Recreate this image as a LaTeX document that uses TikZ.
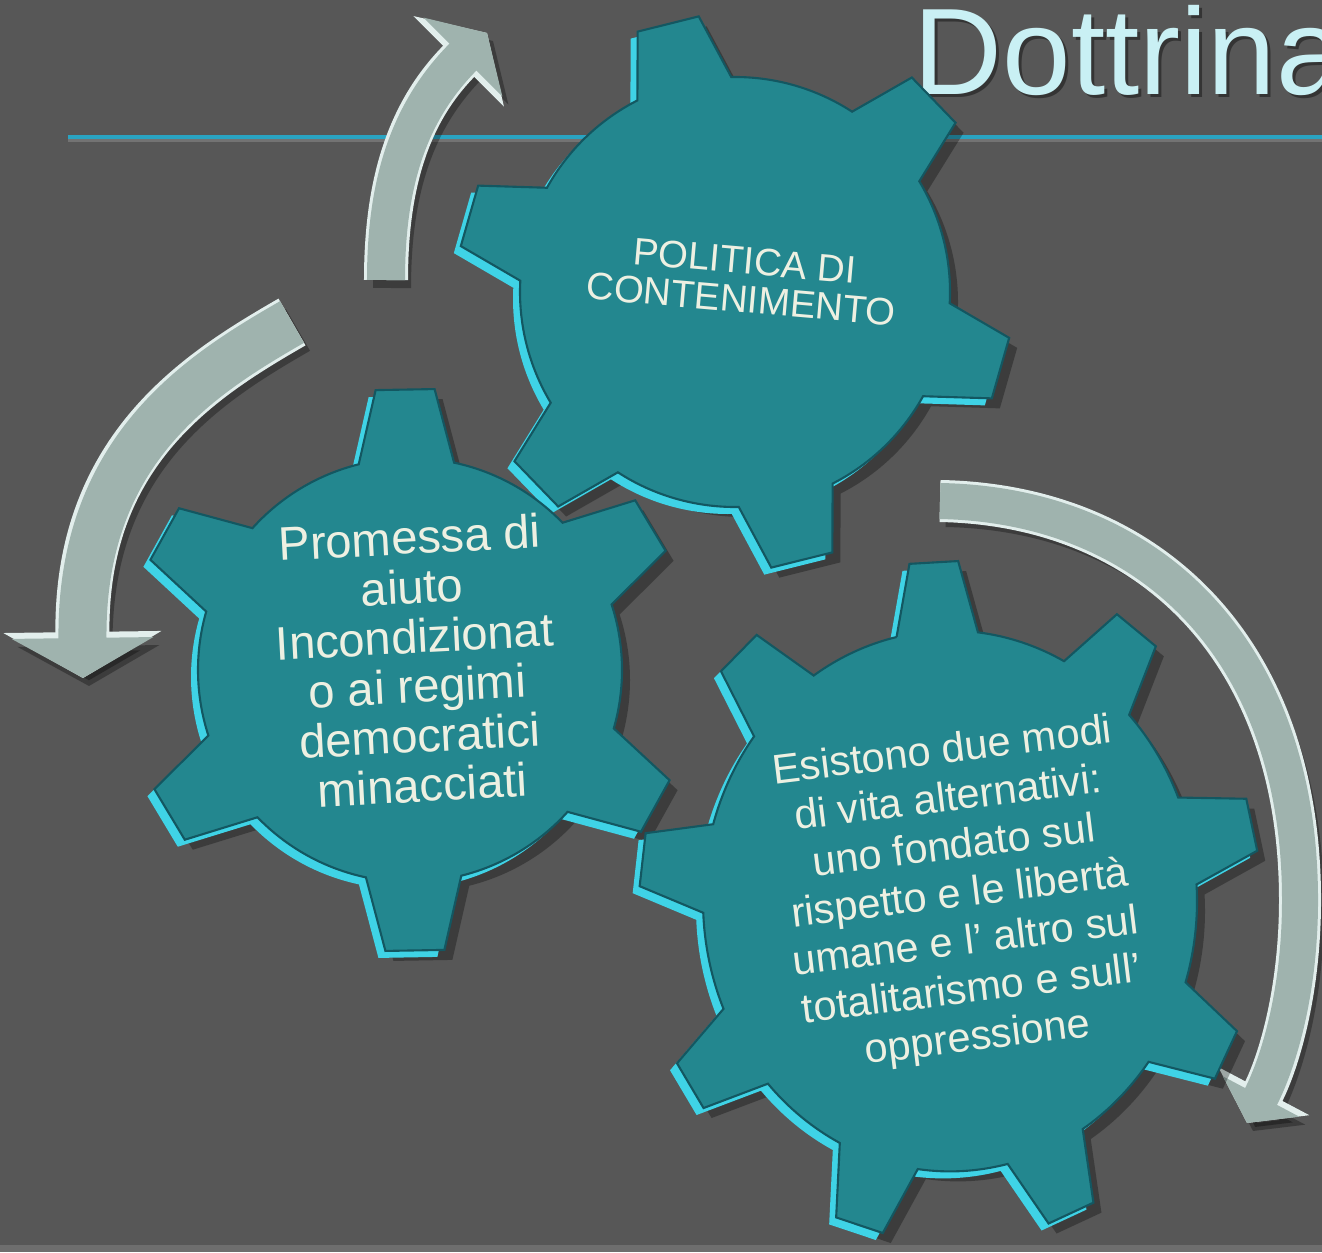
\documentclass[tikz,border=0pt]{standalone}
\usepackage{fontspec}
\setmainfont{Liberation Sans}
\usetikzlibrary{arrows.meta}

\definecolor{slide}{HTML}{575757}
\definecolor{slidestrip}{HTML}{6E6E6E}
\definecolor{gearface}{HTML}{23878F}
\definecolor{gearedge}{HTML}{3FD3E6}
\definecolor{geardark}{HTML}{135761}
\definecolor{arrowface}{HTML}{9FB3AE}
\definecolor{arrowedge}{HTML}{E2EEEC}
\definecolor{gtext}{HTML}{EDF0E2}
\definecolor{titlecol}{HTML}{C9F0F4}
\definecolor{rulecol}{HTML}{2AA4C2}

\newcommand{\gearshape}[8][]{%
  \pgfmathsetmacro{\gstep}{360/#3}%
  \foreach \gdx/\gdy/\glayer in {8/10/gearshadow,-7/7/gearlight,0/0/gearbody}{%
    \path[\glayer, shift={(#2)}, shift={(\gdx,\gdy)}, #1] (#4-#7:#5)
      \foreach \k in {1,...,#3}{
        -- ({#4+(\k-1)*\gstep-#8}:#6) -- ({#4+(\k-1)*\gstep+#8}:#6)
        -- ({#4+(\k-1)*\gstep+#7}:#5)
        arc[start angle={#4+(\k-1)*\gstep+#7}, end angle={#4+\k*\gstep-#7}, radius=#5]}
      -- cycle;}}

\def\bandone{(a1s) .. controls (386,180) and (410,110) .. (a1e)}
\def\bandtwo{(a2s) .. controls (200,375) and (80,450) .. (a2e)}
\def\bandthree{(a3s) .. controls (1150,505) and (1300,650) .. (1300,900) .. controls (1300,1000) and (1275,1070) .. (a3e)}

\begin{document}
\begin{tikzpicture}[x=0.01cm, y=-0.01cm,
    gearbody/.style={fill=gearface, draw=geardark, line width=0.6pt},
    gearlight/.style={fill=gearedge},
    gearshadow/.style={fill=black, fill opacity=0.3},
    geartext/.style={text=gtext, align=center, inner sep=0pt},
    titletext/.style={inner sep=0pt, anchor=base west, font=\fontsize{35}{40}\selectfont}]
  \clip (0,0) rectangle (1322,1252);
  \fill[slide] (0,0) rectangle (1322,1252);
  \fill[slidestrip] (0,1245) rectangle (1322,1252);
  \draw[black!55, line width=1.2pt] (68,140) -- (1322,140);
  \draw[rulecol, line width=0.9pt] (68,137) -- (1322,137);

  \node[titletext, text=black, opacity=0.4] (titleshade) at (916,98) {Dottrina};
  \node[titletext, text=titlecol] (titolo) at (913,95) {Dottrina};

  \coordinate (a1s) at (386,280);
  \coordinate (a1e) at (487,33);
  \coordinate (a2s) at (292,322);
  \coordinate (a2e) at (83,678);
  \coordinate (a3s) at (940,501);
  \coordinate (a3e) at (1247,1123);
  \foreach \band/\bw/\hw/\hl in {\bandone/0.38/1.1/0.34, \bandtwo/0.48/1.4/0.40, \bandthree/0.36/0.85/0.30}{
    \pgfmathsetmacro{\rw}{\bw+0.06}
    \pgfmathsetmacro{\rhw}{\hw+0.16}
    \pgfmathsetmacro{\rhl}{\hl+0.06}
    \draw[black, opacity=0.3, transform canvas={shift={(0.06cm,-0.08cm)}}, line width=\bw cm,
      -{Triangle[width=\hw cm, length=\hl cm]}] \band;
    \draw[arrowedge, line width=\rw cm, -{Triangle[width=\rhw cm, length=\rhl cm]}] \band;
    \draw[arrowface, line width=\bw cm, -{Triangle[width=\hw cm, length=\hl cm]}] \band;
  }

  \coordinate (gtop) at (735,292);
  \coordinate (gleft) at (410,670);
  \coordinate (gbottom) at (950,901);
  \gearshape{gtop}{6}{-104}{215}{278}{13}{6.5}
  \gearshape{gleft}{6}{-91}{212}{282}{13}{6}
  \gearshape[xscale=0.95, yscale=1.04]{gbottom}{9}{-93}{260}{327}{9.5}{4.5}

  \node[geartext, rotate=-5, font=\fontsize{10.9}{11}\selectfont] (contenimento) at (743,280)
    {POLITICA DI\\CONTENIMENTO};
  \node[geartext, rotate=3, font=\fontsize{13.4}{14.1}\selectfont] (promessa) at (416,661)
    {Promessa di\\aiuto\\Incondizionat\\o ai regimi\\democratici\\minacciati};
  \node[geartext, rotate=7, font=\fontsize{11.8}{13.7}\selectfont] (esistono) at (960,896)
    {Esistono due modi\\di vita alternativi:\\uno fondato sul\\rispetto e le libertà\\umane e l' altro sul\\totalitarismo e sull'\\oppressione};
\end{tikzpicture}
\end{document}
